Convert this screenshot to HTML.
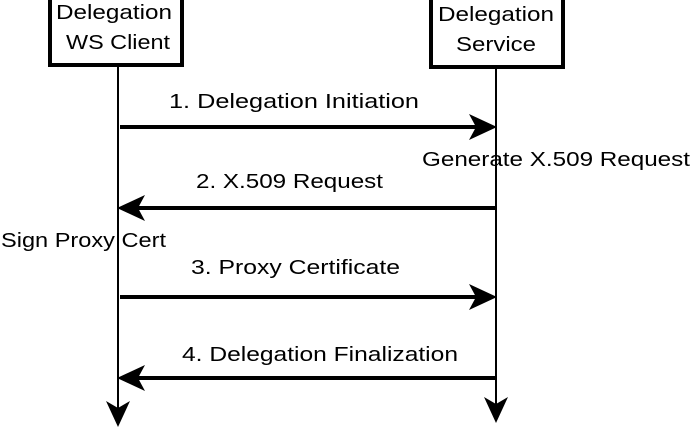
<!DOCTYPE html>
<html><head><meta charset="utf-8"><style>html,body{margin:0;padding:0;background:#fff}svg{display:block}</style></head><body>
<svg width="693" height="428" viewBox="0 0 693 428" xmlns="http://www.w3.org/2000/svg" font-family="Liberation Sans, sans-serif" font-size="20" fill="#000">
<rect x="50" y="-2" width="132" height="67" fill="#fff" stroke="#000" stroke-width="4"/>
<rect x="431" y="-2" width="132" height="69" fill="#fff" stroke="#000" stroke-width="4"/>
<text x="56" y="19" textLength="116" lengthAdjust="spacingAndGlyphs">Delegation</text>
<text x="66" y="49" textLength="104" lengthAdjust="spacingAndGlyphs">WS Client</text>
<text x="438" y="21" textLength="116" lengthAdjust="spacingAndGlyphs">Delegation</text>
<text x="456" y="51" textLength="80" lengthAdjust="spacingAndGlyphs">Service</text>
<line x1="118" y1="65" x2="118" y2="408" stroke="#000" stroke-width="2"/>
<line x1="496" y1="67" x2="496" y2="404" stroke="#000" stroke-width="2"/>
<path d="M118 427 L106 401 L118 408 L130 401 Z"/>
<path d="M496 423 L484 397 L496 404 L508 397 Z"/>
<g stroke="#000" stroke-width="4">
<line x1="120" y1="127" x2="478" y2="127"/>
<line x1="136" y1="208" x2="496" y2="208"/>
<line x1="120" y1="297" x2="478" y2="297"/>
<line x1="136" y1="378" x2="496" y2="378"/>
</g>
<path d="M497 127 L469 114 L476 127 L469 140 Z"/>
<path d="M117 208 L145 195 L138 208 L145 221 Z"/>
<path d="M497 297 L469 284 L476 297 L469 310 Z"/>
<path d="M117 378 L145 365 L138 378 L145 391 Z"/>
<text x="169" y="108" textLength="250" lengthAdjust="spacingAndGlyphs">1. Delegation Initiation</text>
<text x="422" y="166" textLength="268" lengthAdjust="spacingAndGlyphs">Generate X.509 Request</text>
<text x="196" y="188" textLength="187" lengthAdjust="spacingAndGlyphs">2. X.509 Request</text>
<text x="1" y="247" textLength="165" lengthAdjust="spacingAndGlyphs">Sign Proxy Cert</text>
<text x="191" y="274" textLength="209" lengthAdjust="spacingAndGlyphs">3. Proxy Certificate</text>
<text x="182" y="361" textLength="276" lengthAdjust="spacingAndGlyphs">4. Delegation Finalization</text>
</svg>
</body></html>
